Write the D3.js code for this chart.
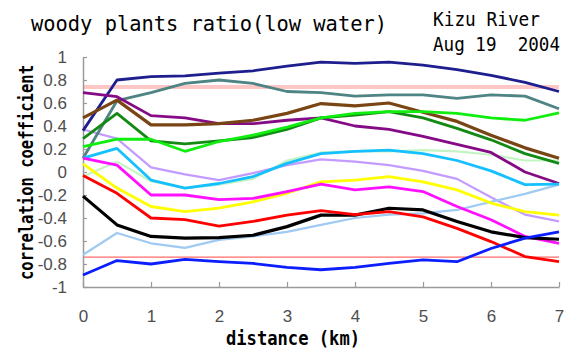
<!DOCTYPE html>
<html>
<head>
<meta charset="utf-8">
<script src="https://cdnjs.cloudflare.com/ajax/libs/d3/7.8.5/d3.min.js"></script>
<style>
  body { margin: 0; background: #fff; }
  svg { display: block; }
  .tick text { font-family: "Liberation Sans", Arial, sans-serif; font-size: 17px; fill: #4e4e4e; }
  .mono { font-family: "DejaVu Sans Mono", monospace; white-space: pre; }
</style>
</head>
<body>
<svg id="chart" width="571" height="350"></svg>
<script>
// distance along the river (km)
var distance = [0, 0.5, 1, 1.5, 2, 2.5, 3, 3.5, 4, 4.5, 5, 5.5, 6, 6.5, 7];
var xTicks = [0, 1, 2, 3, 4, 5, 6, 7];
var yTicks = [-1, -0.8, -0.6, -0.4, -0.2, 0, 0.2, 0.4, 0.6, 0.8, 1];
// significance levels
var upperLevel = 0.74;
var lowerLevel = -0.74;

// correlation coefficient, one array per series
var paleGreen  = [-0.04, 0.09, -0.08, -0.14, -0.11, -0.06, 0.10, 0.17, 0.18, 0.18, 0.19, 0.18, 0.15, 0.10, 0.10];
var lavender   = [0.37, 0.29, 0.04, -0.02, -0.07, -0.01, 0.06, 0.11, 0.09, 0.06, 0.01, -0.06, -0.22, -0.37, -0.43];
var lightBlue  = [-0.72, -0.53, -0.62, -0.66, -0.59, -0.56, -0.52, -0.46, -0.40, -0.37, -0.36, -0.33, -0.26, -0.19, -0.11];
var teal       = [0.12, 0.62, 0.69, 0.77, 0.80, 0.77, 0.70, 0.69, 0.66, 0.67, 0.67, 0.64, 0.67, 0.66, 0.55];
var navy       = [0.36, 0.80, 0.83, 0.835, 0.86, 0.88, 0.92, 0.955, 0.945, 0.955, 0.93, 0.89, 0.84, 0.78, 0.70];
var purple     = [0.69, 0.655, 0.49, 0.47, 0.42, 0.42, 0.45, 0.47, 0.40, 0.37, 0.31, 0.24, 0.17, 0.00, -0.10];
var brown      = [0.47, 0.625, 0.41, 0.41, 0.42, 0.45, 0.51, 0.595, 0.575, 0.60, 0.52, 0.44, 0.32, 0.21, 0.12];
var darkGreen  = [0.29, 0.51, 0.27, 0.245, 0.27, 0.30, 0.37, 0.47, 0.495, 0.525, 0.47, 0.38, 0.28, 0.16, 0.075];
var green      = [0.22, 0.285, 0.285, 0.18, 0.265, 0.32, 0.39, 0.47, 0.51, 0.525, 0.525, 0.51, 0.47, 0.45, 0.515];
var cyan       = [0.12, 0.205, -0.07, -0.14, -0.10, -0.04, 0.075, 0.16, 0.18, 0.19, 0.16, 0.10, 0.01, -0.11, -0.105];
var yellow     = [0.07, -0.14, -0.30, -0.345, -0.315, -0.26, -0.185, -0.085, -0.07, -0.04, -0.085, -0.155, -0.27, -0.345, -0.375];
var magenta    = [0.12, 0.06, -0.20, -0.20, -0.24, -0.23, -0.17, -0.105, -0.155, -0.13, -0.17, -0.30, -0.415, -0.56, -0.62];
var black      = [-0.21, -0.46, -0.56, -0.575, -0.57, -0.55, -0.475, -0.375, -0.375, -0.315, -0.33, -0.43, -0.52, -0.57, -0.585];
var red        = [-0.03, -0.185, -0.40, -0.415, -0.47, -0.43, -0.375, -0.335, -0.37, -0.345, -0.39, -0.49, -0.605, -0.735, -0.78];
var blue       = [-0.895, -0.77, -0.80, -0.76, -0.78, -0.795, -0.83, -0.85, -0.83, -0.795, -0.765, -0.78, -0.665, -0.575, -0.52];

var series = [
  { values: paleGreen, color: "#c4f4c4", width: 2.2 },
  { values: lavender,  color: "#c39bff", width: 2.2 },
  { values: lightBlue, color: "#9fcaf2", width: 2.2 },
  { values: teal,      color: "#4f8484", width: 2.8 },
  { values: navy,      color: "#1e1e8e", width: 2.8 },
  { values: purple,    color: "#850a85", width: 2.8 },
  { values: brown,     color: "#7a4514", width: 3.2 },
  { values: darkGreen, color: "#138a13", width: 2.8 },
  { values: green,     color: "#10ee10", width: 2.8 },
  { values: cyan,      color: "#14c0ff", width: 2.8 },
  { values: yellow,    color: "#ffff00", width: 2.8 },
  { values: magenta,   color: "#ff10ff", width: 2.8 },
  { values: black,     color: "#000000", width: 3.2 },
  { values: red,       color: "#ff0000", width: 2.8 },
  { values: blue,      color: "#0a1eff", width: 2.8 }
];

var svg = d3.select("#chart");

var x = d3.scaleLinear().domain([0, 7]).range([83, 559]);
var y = d3.scaleLinear().domain([-1, 1]).range([287, 57]);

// significance bands
svg.append("line")
  .attr("x1", x(0)).attr("x2", x(7))
  .attr("y1", y(upperLevel)).attr("y2", y(upperLevel))
  .attr("stroke", "#ffc6c6").attr("stroke-width", 4);
svg.append("line")
  .attr("x1", x(0)).attr("x2", x(7))
  .attr("y1", y(lowerLevel)).attr("y2", y(lowerLevel))
  .attr("stroke", "#ff6a6a").attr("stroke-width", 1.2);

// axes
var fmt = function(d) { return String(+d.toFixed(1)); };
svg.append("g")
  .attr("transform", "translate(0," + y(-1) + ")")
  .call(d3.axisBottom(x).tickValues(xTicks).tickSize(-5).tickSizeOuter(0).tickPadding(23).tickFormat(fmt));
svg.append("g")
  .attr("transform", "translate(" + x(0) + ",0)")
  .call(d3.axisLeft(y).tickValues(yTicks).tickSize(-4).tickSizeOuter(0).tickPadding(16).tickFormat(fmt));
svg.selectAll(".domain").attr("stroke", "#9a9a9a").attr("stroke-width", 1.5);
svg.selectAll(".tick line").attr("stroke", "#9a9a9a").attr("stroke-width", 1.2);

// series lines
var line = d3.line()
  .x(function(d, i) { return x(distance[i]); })
  .y(function(d) { return y(d); });

svg.append("g").selectAll("path")
  .data(series)
  .enter()
    .append("path")
      .attr("d", function(d) { return line(d.values); })
      .attr("fill", "none")
      .attr("stroke", function(d) { return d.color; })
      .attr("stroke-width", function(d) { return d.width; })
      .attr("stroke-linejoin", "round");

// titles
svg.append("text")
  .attr("class", "mono")
  .attr("x", 31).attr("y", 31)
  .attr("font-size", 21)
  .attr("textLength", 356).attr("lengthAdjust", "spacingAndGlyphs")
  .text("woody plants ratio(low water)");
svg.append("text")
  .attr("class", "mono")
  .attr("x", 433).attr("y", 26)
  .attr("font-size", 19)
  .attr("textLength", 107).attr("lengthAdjust", "spacingAndGlyphs")
  .text("Kizu River");
svg.append("text")
  .attr("class", "mono")
  .attr("x", 433).attr("y", 51)
  .attr("font-size", 19)
  .attr("textLength", 127).attr("lengthAdjust", "spacingAndGlyphs")
  .text("Aug 19  2004");

// axis titles
svg.append("text")
  .attr("class", "mono")
  .attr("x", 226).attr("y", 345)
  .attr("font-size", 19).attr("font-weight", "bold")
  .attr("textLength", 134).attr("lengthAdjust", "spacingAndGlyphs")
  .text("distance (km)");
svg.append("text")
  .attr("class", "mono")
  .attr("transform", "translate(33,280) rotate(-90)")
  .attr("font-size", 19).attr("font-weight", "bold")
  .attr("textLength", 215).attr("lengthAdjust", "spacingAndGlyphs")
  .text("correlation coefficient");
</script>
</body>
</html>
